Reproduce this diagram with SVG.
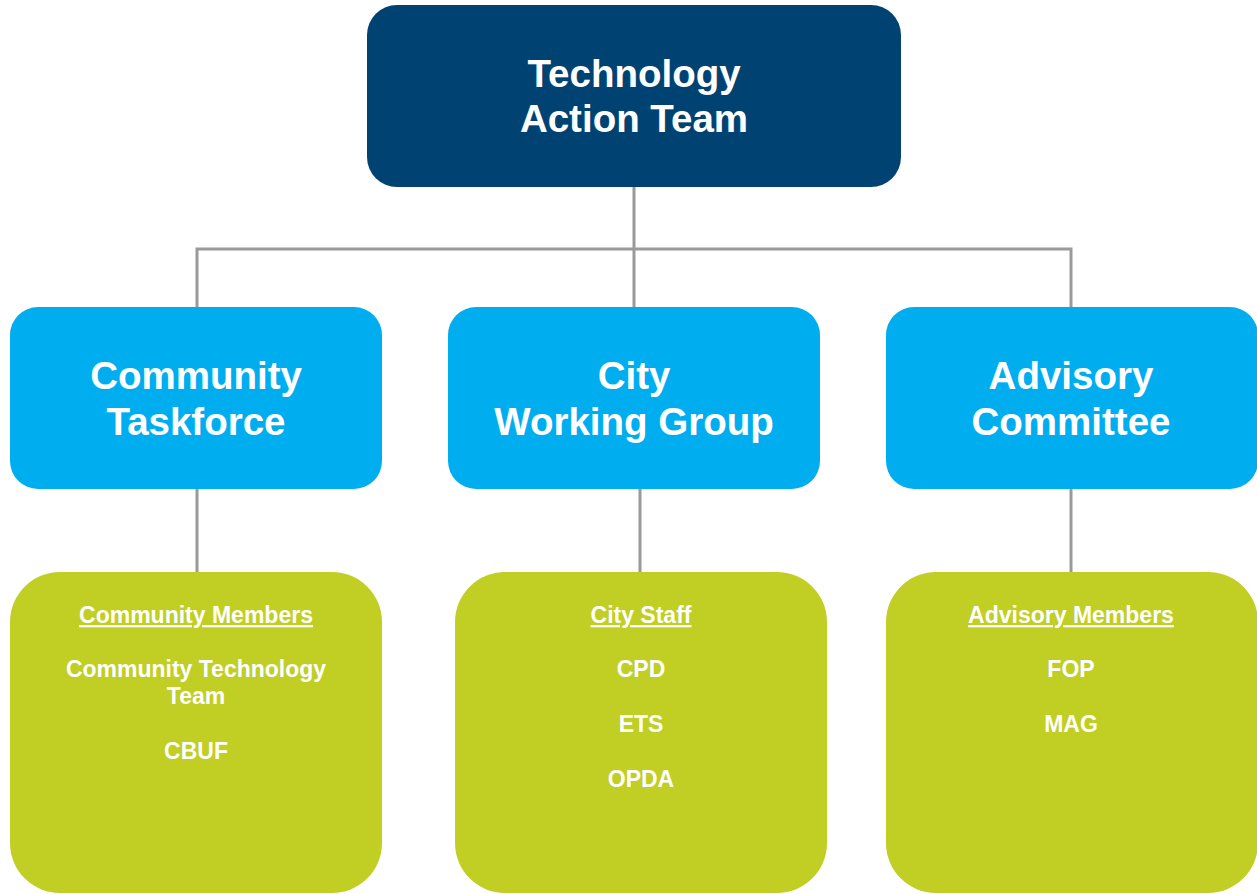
<svg xmlns="http://www.w3.org/2000/svg" width="1257" height="894" viewBox="0 0 1257 894">
<style>
.conn{stroke:#9a9a9a;stroke-width:3;fill:none}
.top{fill:#004373}
.mid{fill:#00aeef}
.bot{fill:#c1ce23}
.t1{font-family:"Liberation Sans",Arial,sans-serif;font-weight:bold;fill:#fff;text-anchor:middle;font-size:38.5px}
.t2{font-family:"Liberation Sans",Arial,sans-serif;font-weight:bold;fill:#fff;text-anchor:middle;font-size:23px}
.u{text-decoration:underline}
</style>
<rect width="1257" height="894" fill="#fff"/>
<g id="connectors">
<path class="conn" d="M634 187V307M197 307V249H1071V307"/>
<path class="conn" d="M197 489V572M640 489V572M1071 489V572"/>
</g>
<g id="tat">
<rect class="top" x="367" y="5" width="534" height="182" rx="30"/>
<text class="t1" x="634" y="87">Technology</text>
<text class="t1" x="634" y="132">Action Team</text>
</g>
<g id="community-taskforce">
<rect class="mid" x="10" y="307" width="372" height="182" rx="28"/>
<text class="t1" x="196" y="389">Community</text>
<text class="t1" x="196" y="435">Taskforce</text>
</g>
<g id="city-working-group">
<rect class="mid" x="448" y="307" width="372" height="182" rx="28"/>
<text class="t1" x="634" y="389">City</text>
<text class="t1" x="634" y="435">Working Group</text>
</g>
<g id="advisory-committee">
<rect class="mid" x="886" y="307" width="372" height="182" rx="28"/>
<text class="t1" x="1071" y="389">Advisory</text>
<text class="t1" x="1071" y="435">Committee</text>
</g>
<g id="community-members">
<rect class="bot" x="10" y="572" width="372" height="321" rx="50"/>
<text class="t2 u" x="196" y="623">Community Members</text>
<text class="t2" x="196" y="677">Community Technology</text>
<text class="t2" x="196" y="704">Team</text>
<text class="t2" x="196" y="759">CBUF</text>
</g>
<g id="city-staff">
<rect class="bot" x="455" y="572" width="372" height="321" rx="50"/>
<text class="t2 u" x="641" y="623">City Staff</text>
<text class="t2" x="641" y="677">CPD</text>
<text class="t2" x="641" y="732">ETS</text>
<text class="t2" x="641" y="787">OPDA</text>
</g>
<g id="advisory-members">
<rect class="bot" x="886" y="572" width="372" height="321" rx="50"/>
<text class="t2 u" x="1071" y="623">Advisory Members</text>
<text class="t2" x="1071" y="677">FOP</text>
<text class="t2" x="1071" y="732">MAG</text>
</g>
</svg>
